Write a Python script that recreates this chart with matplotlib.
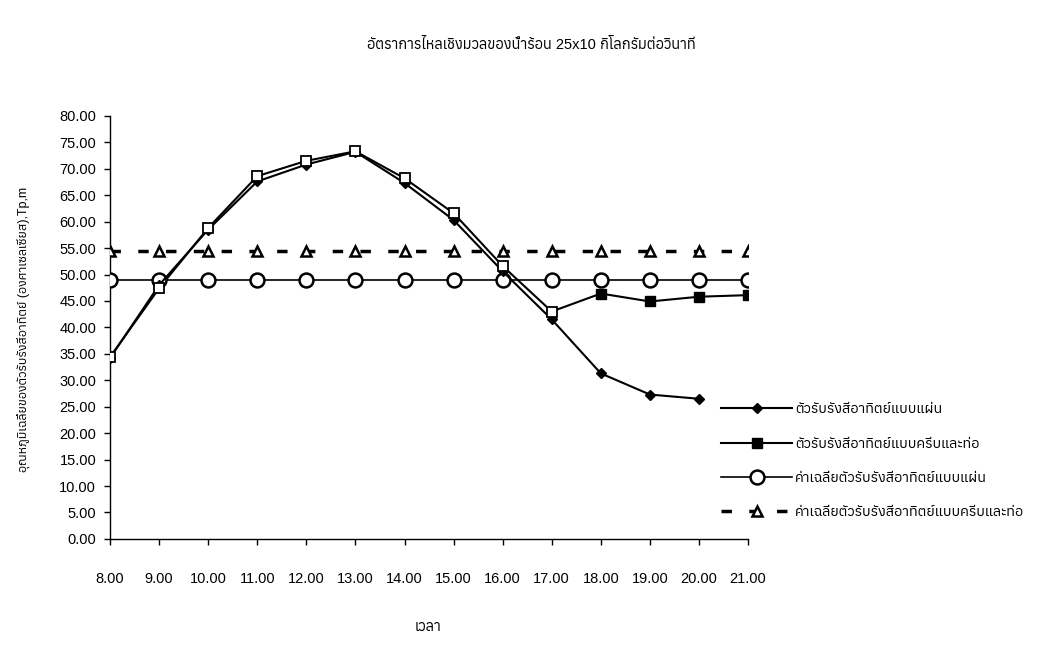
import numpy as np
import matplotlib
matplotlib.use("Agg")
import matplotlib.pyplot as plt
from matplotlib import font_manager
from matplotlib.ft2font import FT2Font

############################################
# data
############################################

hours = [8, 9, 10, 11, 12, 13, 14, 15, 16, 17, 18, 19, 20, 21]
hour_labels = ["%.2f" % h for h in hours]

flat_plate = [34.2, 48.0, 58.5, 67.6, 70.8, 73.2, 67.3, 60.3, 50.6, 41.5, 31.3, 27.3, 26.5]
fin_tube = [34.4, 47.4, 58.8, 68.6, 71.5, 73.3, 68.2, 61.6, 51.6, 43.0, 46.4, 44.9, 45.8, 46.1]
flat_avg = [49.0] * 14
fin_avg = [54.4] * 14

labels = [
    "ตัวรับรังสีอาทิตย์แบบแผ่น",
    "ตัวรับรังสีอาทิตย์แบบครีบและท่อ",
    "ค่าเฉลี่ยตัวรับรังสีอาทิตย์แบบแผ่น",
    "ค่าเฉลี่ยตัวรับรังสีอาทิตย์แบบครีบและท่อ",
]

title = "อัตราการไหลเชิงมวลของน้ำร้อน 25x10 กิโลกรัมต่อวินาที"
xlabel = "เวลา"
ylabel = "อุณหภูมิเฉลี่ยของตัวรับรังสีอาทิตย์ (องศาเซลเซียส),Tp,m"

############################################
# font with thai glyphs
############################################

thai = []
for f in font_manager.fontManager.ttflist:
    try:
        if 0x0E01 in FT2Font(f.fname).get_charmap():
            thai.append(f.name)
    except Exception:
        pass
thai = sorted(set(thai))
plt.rcParams["font.family"] = ["Liberation Sans"] + thai + ["DejaVu Sans"]

############################################
# plot
############################################

fig = plt.figure(figsize=(10.41, 6.58), dpi=100)
ax = fig.add_axes([0.1057, 0.181, 0.6129, 0.6429])

n_open = 10

ax.plot(hours[:len(flat_plate)], flat_plate, color="black", lw=1.5,
        marker="D", ms=5.5, mfc="black", mec="black", label=labels[0], zorder=4)
ax.plot(hours, fin_tube, color="black", lw=1.5,
        marker="s", ms=7, mfc="black", mec="black",
        markevery=list(range(n_open, len(hours))), label=labels[1], zorder=3)
ax.plot(hours[:n_open], fin_tube[:n_open], ls="none",
        marker="s", ms=7, mfc="white", mec="black", mew=1.3, zorder=5)
ax.plot(hours, flat_avg, color="black", lw=1.2,
        marker="o", ms=10, mfc="white", mec="black", mew=1.8, label=labels[2], zorder=3)
ax.plot(hours, fin_avg, color="black", lw=2.5, dashes=(3, 5),
        marker="^", ms=7, mfc="white", mec="black", mew=1.8, label=labels[3], zorder=3)

ax.set_xlim(8, 21)
ax.set_ylim(0, 80)
ax.set_xticks(hours)
ax.set_xticklabels(hour_labels)
ax.set_yticks(np.arange(0, 81, 5))
ax.yaxis.set_major_formatter(matplotlib.ticker.FormatStrFormatter("%.2f"))

ax.spines["top"].set_visible(False)
ax.spines["right"].set_visible(False)
ax.spines["left"].set_linewidth(1.0)
ax.spines["bottom"].set_linewidth(1.0)
ax.tick_params(axis="both", direction="out", length=4, width=1, labelsize=10.5)
ax.tick_params(axis="x", pad=20)
ax.tick_params(axis="y", pad=6)

fig.text(0.51, 0.932, title, ha="center", va="center", fontsize=10.5)
fig.text(0.411, 0.047, xlabel, ha="center", va="center", fontsize=10.5)
fig.text(0.022, 0.5, ylabel, ha="center", va="center", rotation=90, fontsize=9)

ax.legend(loc="upper left", bbox_to_anchor=(0.680, 0.408), bbox_transform=fig.transFigure,
          frameon=False, handlelength=5.0, labelspacing=1.42, fontsize=10.3,
          handletextpad=0.2)

fig.savefig("out.png", dpi=100)
